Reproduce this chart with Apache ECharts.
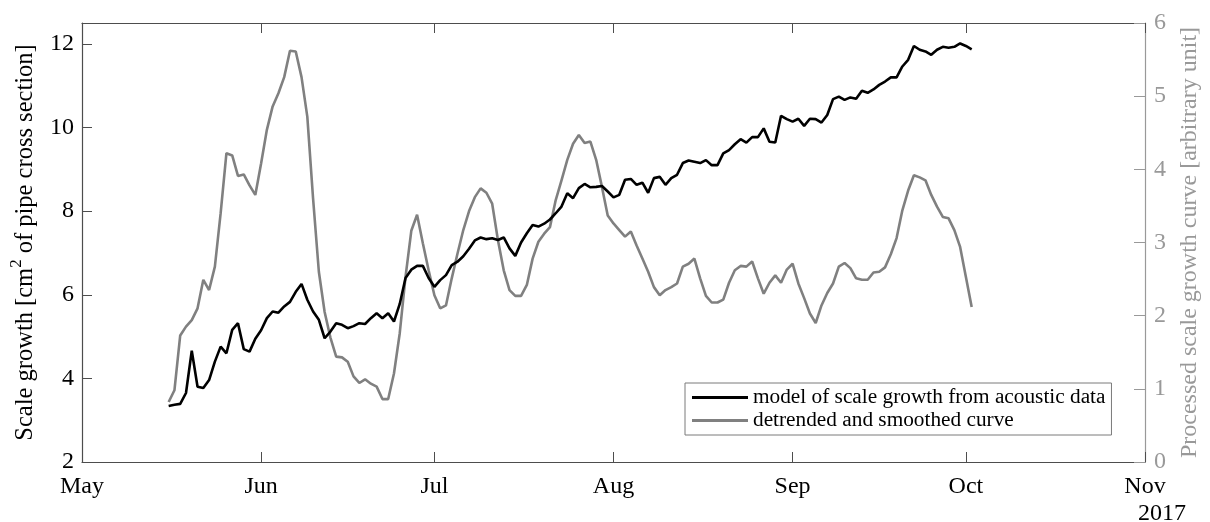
<!DOCTYPE html>
<html>
<head>
<meta charset="utf-8">
<script src="https://cdn.jsdelivr.net/npm/echarts@6/dist/echarts.min.js"></script>
<style>
  html, body { margin: 0; padding: 0; background: #fff; }
  #chart { width: 1210px; height: 522px; }
</style>
</head>
<body>
<div id="chart"></div>
<script>
// first sample day of both curves, one value per day after that
const startDate = "2017-05-16";

// model of scale growth (left axis, cm^2)
const modelValues = [
  3.34, 3.37, 3.39, 3.65, 4.66, 3.80, 3.77, 3.96, 4.40, 4.76,
  4.60, 5.16, 5.32, 4.70, 4.64, 4.95, 5.15, 5.44, 5.60, 5.57,
  5.72, 5.83, 6.07, 6.26, 5.88, 5.60, 5.40, 4.96, 5.12, 5.32,
  5.28, 5.20, 5.25, 5.32, 5.30, 5.44, 5.56, 5.44, 5.56, 5.36,
  5.78, 6.40, 6.60, 6.69, 6.69, 6.40, 6.19, 6.35, 6.47, 6.71,
  6.79, 6.92, 7.10, 7.30, 7.37, 7.33, 7.35, 7.31, 7.37, 7.11,
  6.93, 7.25, 7.47, 7.67, 7.63, 7.70, 7.80, 7.95, 8.11, 8.43,
  8.31, 8.55, 8.65, 8.57, 8.58, 8.60, 8.47, 8.33, 8.39, 8.75,
  8.77, 8.63, 8.68, 8.44, 8.79, 8.82, 8.63, 8.79, 8.87, 9.15,
  9.21, 9.18, 9.15, 9.22, 9.10, 9.10, 9.38, 9.46, 9.60, 9.72,
  9.64, 9.77, 9.77, 9.98, 9.66, 9.64, 10.28, 10.20, 10.14, 10.21,
  10.04, 10.21, 10.20, 10.12, 10.30, 10.68, 10.74, 10.66, 10.72, 10.69,
  10.88, 10.83, 10.91, 11.02, 11.10, 11.20, 11.20, 11.46, 11.62, 11.95,
  11.86, 11.82, 11.74, 11.86, 11.93, 11.91, 11.93, 12.01, 11.95, 11.87
];

// detrended and smoothed curve (right axis, arbitrary unit)
const smoothValues = [
  0.82, 0.98, 1.73, 1.85, 1.94, 2.10, 2.49, 2.35, 2.67, 3.40,
  4.22, 4.19, 3.91, 3.93, 3.78, 3.65, 4.08, 4.54, 4.86, 5.04,
  5.26, 5.62, 5.61, 5.26, 4.72, 3.60, 2.60, 2.05, 1.70, 1.44,
  1.43, 1.37, 1.17, 1.08, 1.13, 1.07, 1.03, 0.86, 0.86, 1.21,
  1.76, 2.53, 3.16, 3.38, 2.99, 2.62, 2.28, 2.10, 2.14, 2.51,
  2.85, 3.17, 3.43, 3.62, 3.74, 3.68, 3.53, 3.03, 2.62, 2.35,
  2.27, 2.27, 2.42, 2.78, 3.01, 3.12, 3.21, 3.58, 3.85, 4.13,
  4.35, 4.47, 4.36, 4.38, 4.13, 3.76, 3.37, 3.26, 3.17, 3.08,
  3.15, 2.96, 2.78, 2.60, 2.39, 2.28, 2.35, 2.39, 2.44, 2.67,
  2.71, 2.78, 2.51, 2.27, 2.18, 2.18, 2.22, 2.45, 2.62, 2.68,
  2.67, 2.74, 2.51, 2.30, 2.45, 2.55, 2.45, 2.63, 2.71, 2.44,
  2.24, 2.03, 1.90, 2.14, 2.31, 2.44, 2.67, 2.72, 2.65, 2.51,
  2.49, 2.49, 2.59, 2.60, 2.66, 2.84, 3.06, 3.44, 3.71, 3.92,
  3.89, 3.85, 3.65, 3.49, 3.35, 3.33, 3.17, 2.94, 2.53, 2.12
];

const monthNames = ["Jan", "Feb", "Mar", "Apr", "May", "Jun", "Jul", "Aug", "Sep", "Oct", "Nov", "Dec"];
const xMin = "2017-05-01";
const xMax = "2017-11-01";
const yearLabel = "2017";

const seriesNames = ["model of scale growth from acoustic data", "detrended and smoothed curve"];

const DAY = 86400000;
const t0 = Date.parse(startDate + "T00:00:00Z");
const toPairs = (vals) => vals.map((v, i) => [t0 + i * DAY, v]);

const FONT = "Liberation Serif";
const AXIS_DARK = "#4d4d4d";
const GREY = "#808080";
const GREY_AXIS = "#999";

const chart = echarts.init(document.getElementById("chart"));

const option = {
  useUTC: true,
  animation: false,
  textStyle: { fontFamily: FONT },
  grid: { left: 80, right: 59, top: 23, bottom: 60, containLabel: false },
  legend: {
    orient: "vertical",
    left: 685,
    top: 383,
    padding: [4, 6, 4, 7],
    itemGap: 2,
    itemWidth: 56,
    itemHeight: 3,
    icon: "rect",
    borderColor: "#7a7a7a",
    borderWidth: 1,
    backgroundColor: "#fff",
    textStyle: { fontFamily: FONT, fontSize: 21.3, color: "#000" },
    data: seriesNames,
  },
  xAxis: [
    {
      type: "time",
      min: Date.parse(xMin + "T00:00:00Z"),
      max: Date.parse(xMax + "T00:00:00Z"),
      splitNumber: 6,
      axisLine: { lineStyle: { color: AXIS_DARK, width: 1.2 } },
      axisTick: { inside: true, length: 10, lineStyle: { color: AXIS_DARK } },
      splitLine: { show: false },
      axisLabel: {
        fontFamily: FONT,
        fontSize: 24,
        color: "#000",
        margin: 13,
        hideOverlap: false,
        showMinLabel: true,
        showMaxLabel: true,
        formatter: (val) => monthNames[new Date(val).getUTCMonth()],
      },
    },
    {
      type: "time",
      position: "top",
      min: Date.parse(xMin + "T00:00:00Z"),
      max: Date.parse(xMax + "T00:00:00Z"),
      splitNumber: 6,
      axisLine: { show: true, lineStyle: { color: AXIS_DARK, width: 1.2 } },
      axisTick: { inside: true, length: 10, lineStyle: { color: AXIS_DARK } },
      axisLabel: { show: false },
      splitLine: { show: false },
    },
  ],
  yAxis: [
    {
      type: "value",
      min: 2,
      max: 12.5,
      interval: 2,
      name: "{t|Scale growth [cm}{s|2}{t| of pipe cross section]}",
      nameLocation: "middle",
      nameRotate: 90,
      nameGap: 44,
      nameTextStyle: {
        fontFamily: FONT,
        color: "#000",
        rich: {
          t: { fontFamily: FONT, fontSize: 24.5, lineHeight: 30, verticalAlign: "bottom", color: "#000" },
          s: { fontFamily: FONT, fontSize: 17, lineHeight: 30, verticalAlign: "top", color: "#000" },
        },
      },
      axisLine: { show: true, lineStyle: { color: AXIS_DARK, width: 1.2 } },
      axisTick: { show: true, inside: true, length: 10, lineStyle: { color: AXIS_DARK } },
      splitLine: { show: false },
      axisLabel: {
        fontFamily: FONT,
        fontSize: 24,
        color: "#000",
        margin: 8,
        showMaxLabel: false,
      },
    },
    {
      type: "value",
      min: 0,
      max: 6,
      interval: 1,
      position: "right",
      name: "Processed scale growth curve [arbitrary unit]",
      nameLocation: "middle",
      nameRotate: 90,
      nameGap: 33,
      nameTextStyle: { fontFamily: FONT, fontSize: 24, color: GREY_AXIS },
      axisLine: { show: true, lineStyle: { color: GREY_AXIS, width: 1.2 } },
      axisTick: { show: true, inside: true, length: 11, lineStyle: { color: GREY_AXIS } },
      splitLine: { show: false },
      axisLabel: { fontFamily: FONT, fontSize: 24, color: GREY_AXIS, margin: 9 },
    },
  ],
  graphic: [
    {
      type: "text",
      left: 1138,
      top: 502,
      style: { text: yearLabel, font: "24px 'Liberation Serif'", fill: "#000" },
    },
  ],
  series: [
    {
      name: seriesNames[0],
      type: "line",
      xAxisIndex: 0,
      yAxisIndex: 0,
      data: toPairs(modelValues),
      showSymbol: false,
      symbol: "none",
      lineStyle: { color: "#000", width: 2.6 },
      itemStyle: { color: "#000" },
      z: 3,
    },
    {
      name: seriesNames[1],
      type: "line",
      xAxisIndex: 0,
      yAxisIndex: 1,
      data: toPairs(smoothValues),
      showSymbol: false,
      symbol: "none",
      lineStyle: { color: GREY, width: 2.6 },
      itemStyle: { color: GREY },
      z: 2,
    },
  ],
};

chart.setOption(option);
</script>
</body>
</html>
